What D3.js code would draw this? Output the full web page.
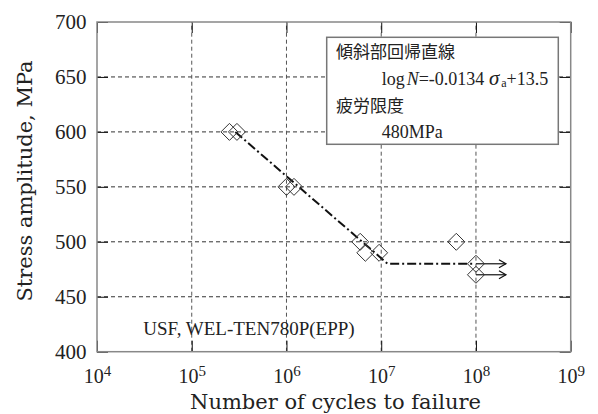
<!DOCTYPE html>
<html>
<head>
<meta charset="utf-8">
<script src="https://cdn.jsdelivr.net/npm/d3@7"></script>
<style>
  body { margin: 0; background: #fff; }
  svg { display: block; }
</style>
</head>
<body>
<svg id="chart" width="598" height="414"></svg>
<script>
// S-N data
const cycles = [2.5e5, 3.0e5, 1.0e6, 1.2e6, 6.0e6, 6.8e6, 9.5e6, 6.2e7, 1.0e8, 1.0e8];
const stress = [600, 600, 550, 550, 500, 490, 490, 500, 480, 470];
const runout = [false, false, false, false, false, false, false, false, true, true];

const xExponents = [4, 5, 6, 7, 8, 9];
const yTicks = [400, 450, 500, 550, 600, 650, 700];

// regression: logN = slope * sigma + intercept, fatigue limit
const slope = -0.0134;
const intercept = 13.5;
const fatigueLimit = 480;
const sigmaTop = 600;
const limitEndN = 0.95e8;

const W = 598, H = 414;
const m = {left: 97, top: 22, right: 27.3, bottom: 62.3};

const svg = d3.select("#chart");
const x = d3.scaleLog().domain([1e4, 1e9]).range([m.left, W - m.right]);
const y = d3.scaleLinear().domain([400, 700]).range([H - m.bottom, m.top]);
const decades = xExponents.map(e => Math.pow(10, e));

const serif = "'Liberation Serif', 'Times New Roman', serif";
const ink = "#222";

// grid
svg.append("g").selectAll("line").data(yTicks.slice(1, -1)).join("line")
    .attr("x1", x.range()[0]).attr("x2", x.range()[1])
    .attr("y1", d => y(d)).attr("y2", d => y(d))
    .attr("stroke", "#333").attr("stroke-width", 1).attr("stroke-dasharray", "4,3");
svg.append("g").selectAll("line").data(decades.slice(1, -1)).join("line")
    .attr("x1", d => x(d)).attr("x2", d => x(d))
    .attr("y1", y.range()[0]).attr("y2", y.range()[1])
    .attr("stroke", "#555").attr("stroke-width", 1).attr("stroke-dasharray", "4,3");

// axes with inward ticks
const gl = svg.append("g").attr("transform", `translate(${m.left},0)`)
    .call(d3.axisLeft(y).tickValues(yTicks).tickSize(-11).tickPadding(10.5));
const gr = svg.append("g").attr("transform", `translate(${W - m.right},0)`)
    .call(d3.axisRight(y).tickValues(yTicks).tickSize(-11).tickFormat(""));
const gt = svg.append("g").attr("transform", `translate(0,${m.top})`)
    .call(d3.axisTop(x).tickValues(decades).tickSize(-11).tickFormat(""));
const gb = svg.append("g").attr("transform", `translate(0,${H - m.bottom})`)
    .call(d3.axisBottom(x).tickValues(decades).tickSize(-11));

[gl, gr, gt, gb].forEach(g => {
    g.select(".domain").remove();
    g.selectAll(".tick line").attr("stroke", "#111").attr("stroke-width", 1);
});
gl.selectAll("text").attr("font-family", serif).attr("font-size", 21).attr("fill", ink);

gb.selectAll("text").each(function(d) {
    const t = d3.select(this).text(null)
        .attr("y", 31.6).attr("dy", null)
        .attr("font-family", serif).attr("fill", ink).attr("text-anchor", "middle");
    t.append("tspan").attr("font-size", 20).text("10");
    t.append("tspan").attr("font-size", 15).attr("dy", -7).text(Math.round(Math.log10(d)));
});

// frame
svg.append("rect")
    .attr("x", m.left).attr("y", m.top)
    .attr("width", W - m.left - m.right).attr("height", H - m.top - m.bottom)
    .attr("fill", "none").attr("stroke", "#888").attr("stroke-width", 1.5);

// regression + fatigue limit (dash-dot)
const sigmaToN = s => Math.pow(10, slope * s + intercept);
const fitLine = [
    {n: sigmaToN(sigmaTop), s: sigmaTop},
    {n: sigmaToN(fatigueLimit), s: fatigueLimit},
    {n: limitEndN, s: fatigueLimit}
];
svg.append("path")
    .attr("d", d3.line().x(d => x(d.n)).y(d => y(d.s))(fitLine))
    .attr("fill", "none").attr("stroke", "#111").attr("stroke-width", 2)
    .attr("stroke-dasharray", "9,3,2,3");

// run-out arrows
const pts = cycles.map((c, i) => ({n: c, s: stress[i], r: runout[i]}));
const arrowLen = 30;
const ga = svg.append("g").attr("stroke", "#111").attr("stroke-width", 1.2).attr("fill", "none");
pts.filter(d => d.r).forEach(d => {
    const x0 = x(d.n), y0 = y(d.s), x1 = x0 + arrowLen;
    ga.append("line").attr("x1", x0).attr("x2", x1).attr("y1", y0).attr("y2", y0);
    ga.append("path").attr("d", `M${x1 - 7},${y0 - 4}L${x1},${y0}L${x1 - 7},${y0 + 4}`);
});

// diamond markers
const dsz = 8.5;
svg.append("g").selectAll("path").data(pts).join("path")
    .attr("d", d => {
        const cx = x(d.n), cy = y(d.s);
        return `M${cx},${cy - dsz}L${cx + dsz},${cy}L${cx},${cy + dsz}L${cx - dsz},${cy}Z`;
    })
    .attr("fill", "none").attr("stroke", "#333").attr("stroke-width", 1);

// legend box
const lg = svg.append("g");
lg.append("rect").attr("x", 326.7).attr("y", 37.3).attr("width", 231.6).attr("height", 107)
    .attr("fill", "#fff").attr("stroke", "#777").attr("stroke-width", 1.5);
const jp = "'Noto Sans CJK JP', sans-serif";
lg.append("text").attr("x", 336).attr("y", 58).attr("font-family", jp).attr("font-size", 17)
    .attr("fill", ink).text("傾斜部回帰直線");
const eq = lg.append("text").attr("x", 381.7).attr("y", 85).attr("font-family", serif)
    .attr("font-size", 18).attr("fill", ink);
eq.append("tspan").text("log");
eq.append("tspan").attr("font-style", "italic").attr("dx", 2).text("N");
eq.append("tspan").text("=" + slope + " ");
eq.append("tspan").attr("font-size", 21).attr("font-style", "italic").text("σ");
eq.append("tspan").attr("font-size", 12).attr("dx", 2).attr("dy", 2).text("a");
eq.append("tspan").attr("dy", -2).text("+" + intercept);
lg.append("text").attr("x", 336).attr("y", 111.5).attr("font-family", jp).attr("font-size", 17)
    .attr("fill", ink).text("疲労限度");
lg.append("text").attr("x", 381.7).attr("y", 138).attr("font-family", serif).attr("font-size", 18)
    .attr("fill", ink).text(fatigueLimit + "MPa");

// note
svg.append("text").attr("x", 143.3).attr("y", 335).attr("font-family", serif).attr("font-size", 19)
    .attr("fill", ink).text("USF, WEL-TEN780P(EPP)");

// axis titles
const titleFont = "'DejaVu Serif', serif";
svg.append("text").attr("x", 335.5).attr("y", 409).attr("text-anchor", "middle")
    .attr("font-family", titleFont).attr("font-size", 21).attr("fill", ink)
    .text("Number of cycles to failure");
svg.append("text").attr("transform", "translate(32,181) rotate(-90)").attr("text-anchor", "middle")
    .attr("font-family", titleFont).attr("font-size", 21).attr("fill", ink)
    .text("Stress amplitude, MPa");
</script>
</body>
</html>
